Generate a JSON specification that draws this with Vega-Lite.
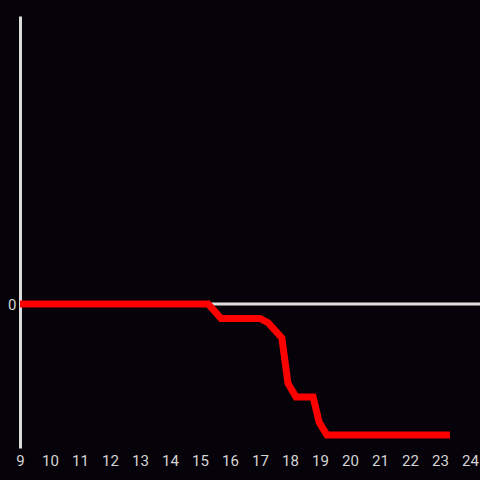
{
  "$schema": "https://vega.github.io/schema/vega-lite/v6.json",
  "width": 460,
  "height": 432,
  "autosize": "none",
  "padding": {"left": 20, "top": 16, "right": 0, "bottom": 32},
  "background": "#050309",
  "config": {
    "view": {"stroke": null},
    "axis": {"labelFont": "Roboto", "labelFontSize": 15, "labelColor": "#d4d4d4", "grid": false, "ticks": false}
  },
  "data": {
    "values": [
      {"t": 9.0, "v": 0},
      {"t": 15.27, "v": 0},
      {"t": 15.7, "v": -0.1},
      {"t": 17.0, "v": -0.1},
      {"t": 17.27, "v": -0.13},
      {"t": 17.73, "v": -0.236},
      {"t": 17.93, "v": -0.55},
      {"t": 18.2, "v": -0.646},
      {"t": 18.77, "v": -0.646},
      {"t": 18.97, "v": -0.82},
      {"t": 19.23, "v": -0.91},
      {"t": 23.33, "v": -0.91}
    ]
  },
  "layer": [
    {
      "mark": {"type": "rule", "color": "#e0e0e0", "strokeWidth": 3},
      "data": {"values": [{"z": 0}]},
      "encoding": {"y": {"field": "z", "type": "quantitative", "scale": {"domain": [-1, 2]}}}
    },
    {
      "mark": {"type": "line", "color": "#ff0000", "strokeWidth": 7, "strokeJoin": "miter"},
      "encoding": {
        "x": {
          "field": "t", "type": "quantitative",
          "scale": {"domain": [9, 24.3333], "nice": false, "zero": false},
          "axis": {"title": null, "domain": false, "format": "d", "values": [9,10,11,12,13,14,15,16,17,18,19,20,21,22,23,24], "labelPadding": 5, "labelFlush": false}
        },
        "y": {
          "field": "v", "type": "quantitative",
          "scale": {"domain": [-1, 2], "nice": false},
          "axis": {"title": null, "values": [0], "format": "d", "domain": true, "domainColor": "#dcdcdc", "domainWidth": 3, "labelPadding": 4}
        }
      }
    }
  ]
}
